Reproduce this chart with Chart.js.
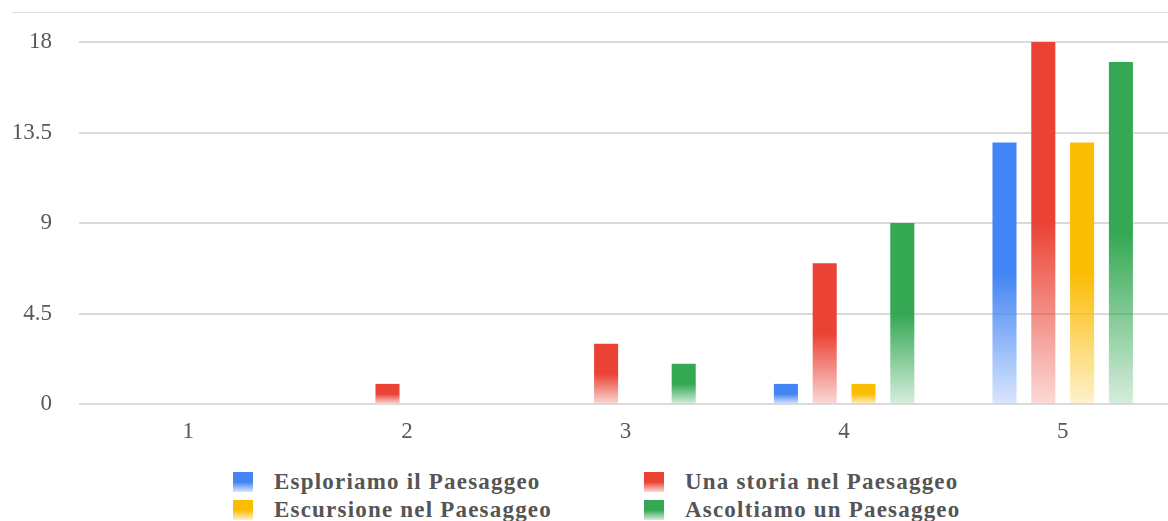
<!DOCTYPE html>
<html>
<head>
<meta charset="utf-8">
<script src="https://cdn.jsdelivr.net/npm/chart.js@4.4.1/dist/chart.umd.min.js"></script>
<style>
  html, body { margin: 0; padding: 0; overflow: hidden; background: #fff; }
  .wrap { position: relative; width: 1172px; height: 460px; }
  .legend {
    position: absolute; left: 233px; top: 468px;
    display: grid; grid-template-columns: 411px 411px; grid-auto-rows: 28px;
    font-family: "Liberation Serif", serif; font-weight: bold; font-size: 23px;
    letter-spacing: 1.2px; color: #555;
  }
  .legend-item { display: flex; align-items: center; line-height: 28px; white-space: nowrap; }
  .legend-box { width: 20px; height: 20px; margin-right: 21px; flex: none; }
</style>
</head>
<body>
<div class="wrap">
  <canvas id="ratingChart" width="1172" height="460"></canvas>
</div>
<div class="legend" id="legend"></div>
<script>
const categories = ['1', '2', '3', '4', '5'];
const seriesNames = ['Esploriamo il Paesaggeo', 'Una storia nel Paesaggeo', 'Escursione nel Paesaggeo', 'Ascoltiamo un Paesaggeo'];
const esploriamo = [0, 0, 0, 1, 13];
const unaStoria = [0, 1, 3, 7, 18];
const escursione = [0, 0, 0, 1, 13];
const ascoltiamo = [0, 0, 2, 9, 17];
const yTicks = [0, 4.5, 9, 13.5, 18];
const colors = [[66, 133, 244], [234, 67, 53], [251, 188, 4], [52, 168, 83]];

const rgba = (c, a) => `rgba(${c[0]}, ${c[1]}, ${c[2]}, ${a})`;

// each bar: solid on its top half, fading out towards the baseline
function barFill(rgb) {
  return (c) => {
    const chart = c.chart;
    if (!chart.chartArea || c.type !== 'data' || !c.raw) return rgba(rgb, 1);
    const y = chart.scales.y;
    const top = y.getPixelForValue(c.raw);
    const bottom = y.getPixelForValue(0);
    if (!isFinite(top) || bottom - top < 1) return rgba(rgb, 1);
    const g = chart.ctx.createLinearGradient(0, top, 0, bottom);
    g.addColorStop(0, rgba(rgb, 1));
    g.addColorStop(0.5, rgba(rgb, 1));
    g.addColorStop(1, rgba(rgb, 0.2));
    return g;
  };
}

const topRule = {
  id: 'topRule',
  beforeDraw(chart) {
    const ctx = chart.ctx;
    ctx.save();
    ctx.strokeStyle = '#e0e0e0';
    ctx.lineWidth = 1;
    ctx.beginPath();
    ctx.moveTo(12, 12.5);
    ctx.lineTo(chart.width, 12.5);
    ctx.stroke();
    ctx.restore();
  }
};

const seriesData = [esploriamo, unaStoria, escursione, ascoltiamo];

new Chart(document.getElementById('ratingChart').getContext('2d'), {
  type: 'bar',
  data: {
    labels: categories,
    datasets: seriesData.map((d, i) => ({
      label: seriesNames[i],
      data: d,
      backgroundColor: barFill(colors[i]),
      borderWidth: 0,
      categoryPercentage: 0.71,
      barPercentage: 0.62
    }))
  },
  options: {
    responsive: false,
    animation: false,
    layout: { padding: { top: 42, right: 0, bottom: 0, left: 0 } },
    plugins: {
      legend: { display: false },
      tooltip: { enabled: false }
    },
    scales: {
      x: {
        grid: { display: false },
        border: { display: false },
        afterFit(scale) { scale.height = 56; },
        ticks: {
          padding: 6,
          color: '#595959',
          font: { family: '"Liberation Serif", serif', size: 23 }
        }
      },
      y: {
        min: 0,
        max: 18,
        afterFit(scale) { scale.width = 79; },
        afterBuildTicks(scale) { scale.ticks = yTicks.map(v => ({ value: v })); },
        border: { display: false },
        grid: { color: '#dadada', lineWidth: 2, drawTicks: false },
        ticks: {
          padding: 27,
          color: '#595959',
          font: { family: '"Liberation Serif", serif', size: 23 }
        }
      }
    }
  },
  plugins: [topRule]
});

// legend in two columns, like the original
const legend = document.getElementById('legend');
seriesNames.forEach((name, i) => {
  const item = document.createElement('div');
  item.className = 'legend-item';
  const box = document.createElement('span');
  box.className = 'legend-box';
  box.style.background = `linear-gradient(to bottom, ${rgba(colors[i], 1)} 0%, ${rgba(colors[i], 1)} 50%, ${rgba(colors[i], 0.2)} 100%)`;
  const text = document.createElement('span');
  text.textContent = name;
  item.appendChild(box);
  item.appendChild(text);
  legend.appendChild(item);
});
</script>
</body>
</html>
